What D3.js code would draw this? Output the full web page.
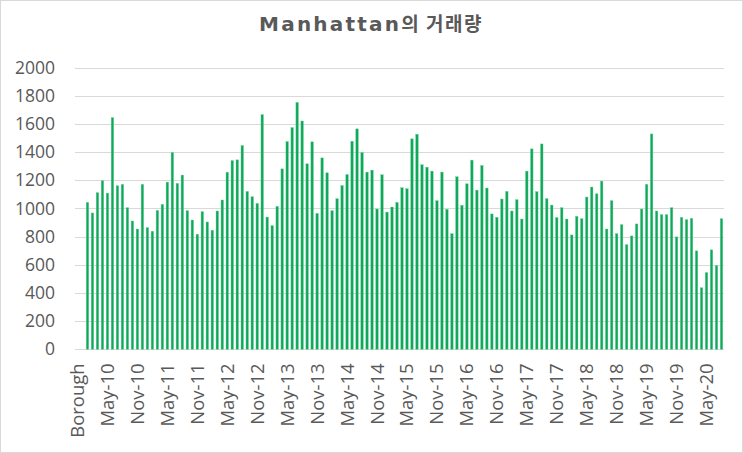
<!DOCTYPE html>
<html>
<head>
<meta charset="utf-8">
<script src="https://cdn.jsdelivr.net/npm/d3@7"></script>
<style>
    body { margin: 0; background: #fff; }
    svg { display: block; }
</style>
</head>
<body>
<svg id="chart"></svg>
<script>
// first two rows of the sheet: the header "Borough" and an empty month
const firstLabels = ["Borough", "Dec-09"];
const monthNames = ["Jan", "Feb", "Mar", "Apr", "May", "Jun", "Jul", "Aug", "Sep", "Oct", "Nov", "Dec"];
const startYear = 2010;
const monthCount = 128; // Jan-10 .. Aug-20

// sales per month, Jan-10 .. Aug-20
const volumes = [
    1043, 968, 1112, 1197, 1109, 1645, 1161, 1171, 1005, 911, 854, 1171,
    864, 838, 986, 1029, 1187, 1397, 1178, 1237, 984, 918, 817, 977,
    904, 845, 982, 1060, 1257, 1340, 1345, 1447, 1121, 1083, 1036, 1666,
    939, 878, 1015, 1281, 1475, 1574, 1753, 1621, 1317, 1473, 965, 1359,
    1253, 984, 1069, 1163, 1241, 1477, 1565, 1397, 1258, 1272, 996, 1239,
    974, 1010, 1043, 1147, 1140, 1494, 1527, 1310, 1293, 1265, 1055, 1258,
    994, 821, 1225, 1022, 1175, 1343, 1130, 1305, 1145, 961, 937, 1067,
    1121, 982, 1062, 925, 1265, 1423, 1119, 1458, 1069, 1024, 935, 1005,
    925, 812, 944, 927, 1081, 1152, 1104, 1194, 854, 1055, 821, 885,
    743, 805, 890, 996, 1171, 1529, 982, 956, 956, 1005, 798, 937,
    920, 930, 699, 437, 545, 706, 595, 927
];

const yTicks = [0, 200, 400, 600, 800, 1000, 1200, 1400, 1600, 1800, 2000];
const titleLatin = "Manhattan";
const titleKorean = "의 거래량";

let categories = firstLabels.slice();
for (let i = 0; i < monthCount; i++) {
    let yr = startYear + Math.floor(i / 12);
    categories.push(monthNames[i % 12] + "-" + String(yr % 100).padStart(2, "0"));
}

let data = categories.map(function (c, i) {
    return {name: c, value: i < firstLabels.length ? null : volumes[i - firstLabels.length]};
});

let width = 743,
    height = 453,
    margin = {top: 67.6, right: 19, bottom: 103.7, left: 75};

let svg = d3.select("#chart")
    .attr("width", width)
    .attr("height", height);

svg.append("rect")
    .attr("x", 0.5)
    .attr("y", 0.5)
    .attr("width", width - 1)
    .attr("height", height - 1)
    .attr("fill", "#fff")
    .attr("stroke", "#d9d9d9");

let x = d3.scaleBand()
    .domain(categories)
    .range([margin.left, width - margin.right])
    .paddingInner(0.5)
    .paddingOuter(0.25);

let y = d3.scaleLinear()
    .domain([0, 2000])
    .range([height - margin.bottom, margin.top]);

// gridlines
svg.append("g")
    .attr("class", "grid")
    .selectAll("line")
    .data(yTicks)
    .enter().append("line")
    .attr("x1", margin.left)
    .attr("x2", width - margin.right)
    .attr("y1", function (d) { return Math.round(y(d)) + 0.5; })
    .attr("y2", function (d) { return Math.round(y(d)) + 0.5; })
    .attr("stroke", "#d9d9d9")
    .attr("stroke-width", 1);

// y axis labels
let yAxis = svg.append("g")
    .attr("transform", "translate(" + (margin.left - 20) + ",0)")
    .call(d3.axisLeft(y).tickValues(yTicks).tickFormat(d3.format("d")).tickSize(0).tickPadding(0));
yAxis.select(".domain").remove();
yAxis.selectAll("text")
    .attr("font-family", "'Open Sans', sans-serif")
    .attr("font-size", "17.5px")
    .attr("fill", "#595959");

// bars
svg.append("g")
    .attr("class", "bars")
    .selectAll("rect")
    .data(data.filter(function (d) { return d.value !== null; }))
    .enter().append("rect")
    .attr("x", function (d) { return x(d.name); })
    .attr("y", function (d) { return y(d.value); })
    .attr("width", x.bandwidth())
    .attr("height", function (d) { return y(0) - y(d.value); })
    .attr("fill", "#0fa85a")
    .attr("stroke", "#5fcf95")
    .attr("stroke-width", 0.4);

// x axis labels, every 6th category
let xAxis = svg.append("g")
    .attr("transform", "translate(0," + (height - margin.bottom) + ")")
    .call(d3.axisBottom(x)
        .tickValues(categories.filter(function (d, i) { return i % 6 === 0; }))
        .tickSize(0));
xAxis.select(".domain").remove();
xAxis.selectAll("text")
    .attr("font-family", "'Open Sans', sans-serif")
    .attr("font-size", "18.5px")
    .attr("fill", "#595959")
    .attr("text-anchor", "end")
    .attr("dy", "0.35em")
    .attr("transform", "translate(0,14) rotate(-90)")
    .attr("x", 0)
    .attr("y", 0);

// title
let title = svg.append("text")
    .attr("x", 371)
    .attr("y", 31)
    .attr("text-anchor", "middle")
    .attr("font-weight", "bold")
    .attr("fill", "#595959");
title.append("tspan")
    .attr("font-family", "'DejaVu Sans', sans-serif")
    .attr("font-size", "20px")
    .attr("letter-spacing", "2.2px")
    .text(titleLatin);
title.append("tspan")
    .attr("font-family", "'Noto Sans CJK KR', sans-serif")
    .attr("font-size", "19px")
    .attr("letter-spacing", "1.5px")
    .text(titleKorean);
</script>
</body>
</html>
